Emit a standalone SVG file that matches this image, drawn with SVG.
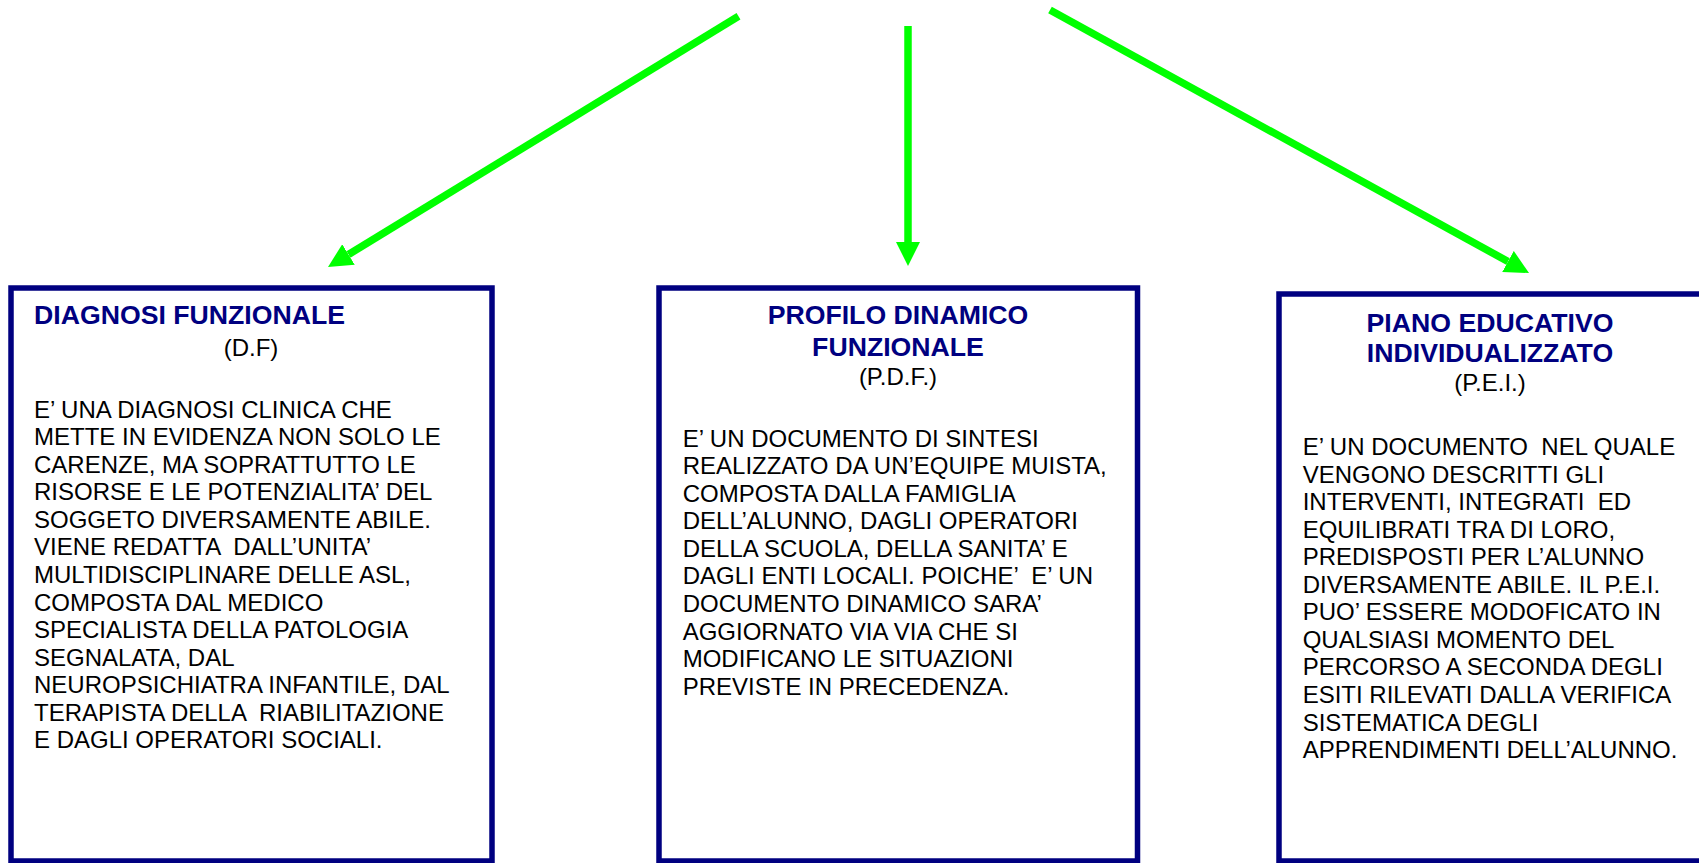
<svg xmlns="http://www.w3.org/2000/svg" width="1699" height="863" viewBox="0 0 1699 863">
<style>
.box{fill:#ffffff;stroke:#000080;stroke-width:5.5}
.title{font-family:"Liberation Sans",Arial,sans-serif;font-size:26.67px;font-weight:bold;fill:#000080}
.abbr{font-family:"Liberation Sans",Arial,sans-serif;font-size:24px;fill:#000000;text-anchor:middle}
.body{font-family:"Liberation Sans",Arial,sans-serif;font-size:24px;fill:#000000}
.mid{text-anchor:middle}
.arrow{stroke:#00ff00;stroke-width:7.5;fill:none;marker-end:url(#head)}
</style>
<defs>
<marker id="head" viewBox="0 -12 24 24" markerWidth="24" markerHeight="24" refX="0" refY="0" orient="auto" markerUnits="userSpaceOnUse">
<path d="M0,-12 L24,0 L0,12 z" fill="#00ff00"/>
</marker>
</defs>
<rect width="1699" height="863" fill="#ffffff"/>
<g id="connectors">
<line class="arrow" x1="738.5" y1="16.3" x2="348.5" y2="254.5"/>
<line class="arrow" x1="908" y1="26" x2="908" y2="242"/>
<line class="arrow" x1="1050" y1="10" x2="1508" y2="261.5"/>
</g>
<g id="node-df">
<rect class="box" x="11" y="288" width="481" height="573"/>
<text class="title" x="34" y="324">DIAGNOSI FUNZIONALE</text>
<text class="abbr" x="251" y="356">(D.F)</text>
<text class="body" xml:space="preserve"><tspan x="34" y="417.7">E’ UNA DIAGNOSI CLINICA CHE</tspan><tspan x="34" y="445.25">METTE IN EVIDENZA NON SOLO LE</tspan><tspan x="34" y="472.8">CARENZE, MA SOPRATTUTTO LE</tspan><tspan x="34" y="500.35">RISORSE E LE POTENZIALITA’ DEL</tspan><tspan x="34" y="527.9">SOGGETO DIVERSAMENTE ABILE.</tspan><tspan x="34" y="555.45">VIENE REDATTA  DALL’UNITA’</tspan><tspan x="34" y="583">MULTIDISCIPLINARE DELLE ASL,</tspan><tspan x="34" y="610.55">COMPOSTA DAL MEDICO</tspan><tspan x="34" y="638.1">SPECIALISTA DELLA PATOLOGIA</tspan><tspan x="34" y="665.65">SEGNALATA, DAL</tspan><tspan x="34" y="693.2">NEUROPSICHIATRA INFANTILE, DAL</tspan><tspan x="34" y="720.75">TERAPISTA DELLA  RIABILITAZIONE</tspan><tspan x="34" y="748.3">E DAGLI OPERATORI SOCIALI.</tspan></text>
</g>
<g id="node-pdf">
<rect class="box" x="659" y="288" width="478.5" height="573"/>
<text class="title mid" x="898" y="324">PROFILO DINAMICO</text>
<text class="title mid" x="898" y="356">FUNZIONALE</text>
<text class="abbr" x="898" y="385">(P.D.F.)</text>
<text class="body" xml:space="preserve"><tspan x="682.7" y="446.7">E’ UN DOCUMENTO DI SINTESI</tspan><tspan x="682.7" y="474.25">REALIZZATO DA UN’EQUIPE MUISTA,</tspan><tspan x="682.7" y="501.8">COMPOSTA DALLA FAMIGLIA</tspan><tspan x="682.7" y="529.35">DELL’ALUNNO, DAGLI OPERATORI</tspan><tspan x="682.7" y="556.9">DELLA SCUOLA, DELLA SANITA’ E</tspan><tspan x="682.7" y="584.45">DAGLI ENTI LOCALI. POICHE’  E’ UN</tspan><tspan x="682.7" y="612">DOCUMENTO DINAMICO SARA’</tspan><tspan x="682.7" y="639.55">AGGIORNATO VIA VIA CHE SI</tspan><tspan x="682.7" y="667.1">MODIFICANO LE SITUAZIONI</tspan><tspan x="682.7" y="694.65">PREVISTE IN PRECEDENZA.</tspan></text>
</g>
<g id="node-pei">
<rect class="box" x="1279" y="294" width="423" height="567"/>
<text class="title mid" x="1490" y="331.7">PIANO EDUCATIVO</text>
<text class="title mid" x="1490" y="361.7">INDIVIDUALIZZATO</text>
<text class="abbr" x="1490" y="390.7">(P.E.I.)</text>
<text class="body" xml:space="preserve"><tspan x="1302.7" y="455">E’ UN DOCUMENTO  NEL QUALE</tspan><tspan x="1302.7" y="482.55">VENGONO DESCRITTI GLI</tspan><tspan x="1302.7" y="510.1">INTERVENTI, INTEGRATI  ED</tspan><tspan x="1302.7" y="537.65">EQUILIBRATI TRA DI LORO,</tspan><tspan x="1302.7" y="565.2">PREDISPOSTI PER L’ALUNNO</tspan><tspan x="1302.7" y="592.75">DIVERSAMENTE ABILE. IL P.E.I.</tspan><tspan x="1302.7" y="620.3">PUO’ ESSERE MODOFICATO IN</tspan><tspan x="1302.7" y="647.85">QUALSIASI MOMENTO DEL</tspan><tspan x="1302.7" y="675.4">PERCORSO A SECONDA DEGLI</tspan><tspan x="1302.7" y="702.95">ESITI RILEVATI DALLA VERIFICA</tspan><tspan x="1302.7" y="730.5">SISTEMATICA DEGLI</tspan><tspan x="1302.7" y="758.05">APPRENDIMENTI DELL’ALUNNO.</tspan></text>
</g>
</svg>
